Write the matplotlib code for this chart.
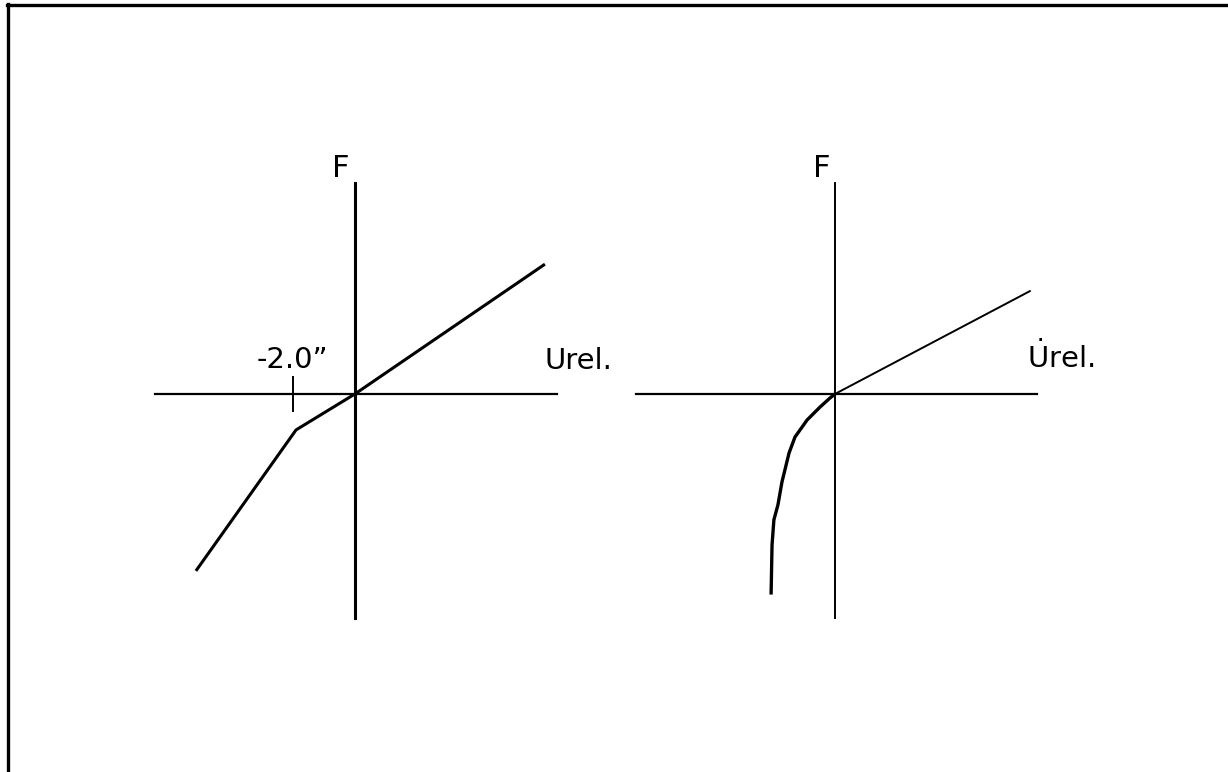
import matplotlib
matplotlib.use("Agg")
import matplotlib.pyplot as plt
from matplotlib.lines import Line2D

# left sketch: piecewise linear force vs relative displacement
disp_u = [-5.13, -1.9, 0.0, 6.13]
disp_f = [-5.71, -1.16, 0.0, 4.19]
disp_tick = -2.0
disp_tick_label = "-2.0\u201d"

# right sketch: force vs relative velocity
vel_u = [-2.06, -2.03, -1.97, -1.84, -1.71, -1.48, -1.29, -0.90, -0.48, -0.16, 0.0, 6.29]
vel_f = [-6.42, -4.87, -4.06, -3.58, -2.84, -1.90, -1.39, -0.84, -0.42, -0.13, 0.0, 3.32]

W, H = 1228, 772
fig = plt.figure(figsize=(W / 100, H / 100), dpi=100)

# frame (top and left edges only)
fig.add_artist(Line2D([7 / W, 1.0], [1 - 5 / H, 1 - 5 / H], color="black", lw=2.4))
fig.add_artist(Line2D([8 / W, 8 / W], [0.0, 1 - 4 / H], color="black", lw=2.4))


def setup(ax, x0, x1, spine_v, spine_h):
    ax.set_xlim(x0, x1)
    ax.set_ylim(-7.23, 6.81)
    ax.patch.set_alpha(0)
    for s in ("top", "right"):
        ax.spines[s].set_visible(False)
    ax.spines["left"].set_position("zero")
    ax.spines["bottom"].set_position("zero")
    ax.spines["left"].set_linewidth(spine_v)
    ax.spines["bottom"].set_linewidth(spine_h)
    ax.set_yticks([])


# left panel
ax1 = fig.add_axes([155 / W, 1 - 618 / H, (557 - 155) / W, (618 - 183) / H])
setup(ax1, -6.45, 6.52, 2.2, 1.6)
ax1.set_xticks([disp_tick])
ax1.set_xticklabels([])
ax1.tick_params(axis="x", direction="inout", length=26, width=1.4)
ax1.plot(disp_u, disp_f, color="black", lw=2.2, solid_capstyle="butt")
ax1.text(disp_tick, 0.84, disp_tick_label, ha="center", va="baseline", fontsize=21)
ax1.text(6.13, 0.81, "Urel.", ha="left", va="baseline", fontsize=21)
ax1.text(-0.74, 7.0, "F", ha="left", va="baseline", fontsize=22)

# right panel
ax2 = fig.add_axes([636 / W, 1 - 618 / H, (1037 - 636) / W, (618 - 183) / H])
setup(ax2, -6.42, 6.52, 1.4, 1.6)
ax2.set_xticks([])
ax2.plot(vel_u[:-1], vel_f[:-1], color="black", lw=2.4)
ax2.plot(vel_u[-2:], vel_f[-2:], color="black", lw=1.4)
ax2.text(-0.71, 7.0, "F", ha="left", va="baseline", fontsize=22)
ax2.text(6.19, 0.84, r"$\dot{\mathrm{U}}$rel.", ha="left", va="baseline", fontsize=21)

fig.savefig("out.png", dpi=100)
